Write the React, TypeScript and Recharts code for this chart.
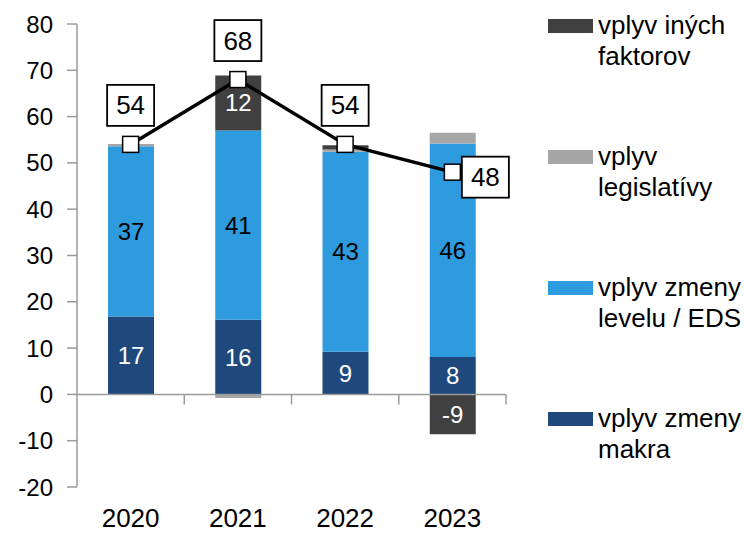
import React from "react";
import {
  ComposedChart,
  Bar,
  Line,
  XAxis,
  YAxis,
  ReferenceLine,
  LabelList,
} from "recharts";

// data
const years = ["2020", "2021", "2022", "2023"];
const makra = [16.8, 16.1, 9.2, 8.1];
const eds = [36.8, 40.9, 43.2, 46.1];
const legislativa = [0.5, -0.8, 0.5, 2.3];
const ine = [0, 11.9, 0.9, -8.6];
const total = [54, 68, 54, 48];
const yTicks = [-20, -10, 0, 10, 20, 30, 40, 50, 60, 70, 80];

const series = [
  { key: "ine", name: "vplyv iných faktorov", color: "#404040", text: "#ffffff" },
  { key: "legislativa", name: "vplyv legislatívy", color: "#a6a6a6", text: "#000000" },
  { key: "eds", name: "vplyv zmeny levelu / EDS", color: "#2e9bdf", text: "#000000" },
  { key: "makra", name: "vplyv zmeny makra", color: "#1f497d", text: "#ffffff" },
];

const data = years.map((year, i) => ({
  year,
  makra: makra[i],
  eds: eds[i],
  legislativa: legislativa[i],
  ine: ine[i],
  total: total[i],
}));

const W = 745;
const H = 533;
const PLOT_TOP = 24;
const PLOT_LEFT = 77;
const PLOT_RIGHT = 506;
const X_AXIS_H = 46;
const PLOT_H = H - PLOT_TOP - X_AXIS_H;
const PLOT_W = PLOT_RIGHT - PLOT_LEFT;
const Y_MIN = -20;
const Y_MAX = 80;
const FONT = "'Liberation Sans', Arial, Helvetica, sans-serif";
const AXIS_GRAY = "#9a9a9a";

const XTick = (props: any) => {
  const { x, payload } = props;
  const band = PLOT_W / years.length;
  const zeroY = PLOT_TOP + (PLOT_H * Y_MAX) / (Y_MAX - Y_MIN);
  return (
    <g>
      <line
        x1={x + band / 2}
        x2={x + band / 2}
        y1={zeroY}
        y2={zeroY + 10}
        stroke={AXIS_GRAY}
        strokeWidth={1.5}
      />
      <text x={x} y={527} textAnchor="middle" fontSize={26} fontFamily={FONT} fill="#000">
        {payload.value}
      </text>
    </g>
  );
};

const makeBarLabel = (fill: string) => (props: any) => {
  const { x, y, width, height, value } = props;
  if (value == null || Math.abs(value) < 5) return null;
  return (
    <text
      x={x + width / 2}
      y={y + height / 2}
      textAnchor="middle"
      dominantBaseline="central"
      fontSize={24}
      fontFamily={FONT}
      fill={fill}
    >
      {Math.round(value)}
    </text>
  );
};

const LineLabel = (props: any) => {
  const { x, y, value, index } = props;
  const last = index === years.length - 1;
  const cx = last ? x + 33 : x;
  const cy = last ? y + 5 : y - 39;
  const bw = 47;
  const bh = 41;
  return (
    <g>
      <rect
        x={cx - bw / 2}
        y={cy - bh / 2}
        width={bw}
        height={bh}
        fill="#fff"
        stroke="#000"
        strokeWidth={1.8}
      />
      <text
        x={cx}
        y={cy}
        textAnchor="middle"
        dominantBaseline="central"
        fontSize={26}
        fontFamily={FONT}
        fill="#000"
      >
        {value}
      </text>
    </g>
  );
};

const SquareDot = (props: any) => {
  const { cx, cy } = props;
  if (cx == null || cy == null) return null;
  return (
    <rect x={cx - 8} y={cy - 8} width={16} height={16} fill="#fff" stroke="#000" strokeWidth={1.5} />
  );
};

const ChartLegend = () => (
  <div style={{ position: "absolute", left: 548, top: 10, width: 197, fontFamily: FONT }}>
    {series.map((s, i) => (
      <div
        key={s.key}
        style={{
          position: "absolute",
          top: i * 131,
          left: 0,
          display: "flex",
          alignItems: "flex-start",
        }}
      >
        <div
          style={{
            width: 45,
            height: 14,
            marginTop: 9,
            background: s.color,
            flex: "none",
          }}
        />
        <div
          style={{
            marginLeft: 5,
            width: 146,
            fontSize: 26,
            lineHeight: "31px",
            color: "#000",
            textAlign: "left",
          }}
        >
          {s.name}
        </div>
      </div>
    ))}
  </div>
);

export default function App() {
  return (
    <div style={{ position: "absolute", left: 0, top: 0, width: W, height: H, background: "#fff" }}>
      <ComposedChart
        width={W}
        height={H}
        data={data}
        stackOffset="sign"
        margin={{ top: PLOT_TOP, right: W - PLOT_RIGHT, bottom: 0, left: 0 }}
        barSize={46}
      >
        <XAxis
          dataKey="year"
          height={X_AXIS_H}
          axisLine={false}
          tickLine={false}
          interval={0}
          tick={<XTick />}
        />
        <YAxis
          width={PLOT_LEFT}
          domain={[Y_MIN, Y_MAX]}
          ticks={yTicks}
          interval={0}
          tickSize={10}
          tickMargin={14}
          axisLine={{ stroke: AXIS_GRAY, strokeWidth: 1.5 }}
          tickLine={{ stroke: AXIS_GRAY, strokeWidth: 1.5 }}
          tick={{ fontSize: 24, fontFamily: FONT, fill: "#000" }}
        />
        <ReferenceLine y={0} stroke={AXIS_GRAY} strokeWidth={1.5} />
        {[...series].reverse().map((s) => (
          <Bar
            key={s.key}
            dataKey={s.key}
            name={s.name}
            stackId="a"
            fill={s.color}
            isAnimationActive={false}
          >
            <LabelList dataKey={s.key} content={makeBarLabel(s.text)} />
          </Bar>
        ))}
        <Line
          dataKey="total"
          stroke="#000"
          strokeWidth={3.5}
          dot={<SquareDot />}
          activeDot={false}
          isAnimationActive={false}
        >
          <LabelList dataKey="total" content={<LineLabel />} />
        </Line>
      </ComposedChart>
      <ChartLegend />
    </div>
  );
}
